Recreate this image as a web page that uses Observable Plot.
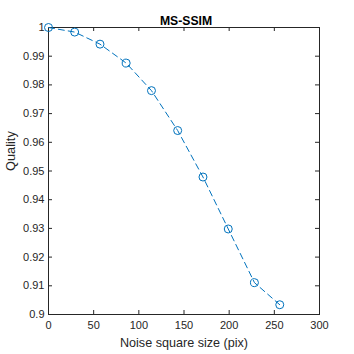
<!DOCTYPE html>
<html>
<head>
<meta charset="utf-8">
<script src="https://cdn.jsdelivr.net/npm/d3@7"></script>
<script src="https://cdn.jsdelivr.net/npm/@observablehq/plot@0.6"></script>
<style>
  html, body { margin: 0; padding: 0; background: #fff; }
</style>
</head>
<body>
<div id="chart"></div>
<script>
const noiseSize = [0, 29, 57, 86, 114, 143, 171, 199, 228, 256];
const quality = [1.0, 0.9984, 0.9942, 0.9876, 0.978, 0.9641, 0.9479, 0.9298, 0.9111, 0.9034];
const xTicks = [0, 50, 100, 150, 200, 250, 300];
const yTicks = [0.9, 0.91, 0.92, 0.93, 0.94, 0.95, 0.96, 0.97, 0.98, 0.99, 1];
const titleText = "MS-SSIM";
const xLabel = "Noise square size (pix)";
const yLabel = "Quality";

const data = noiseSize.map((x, i) => ({x, y: quality[i]}));
const axisColor = "#262626";
const lineColor = "#0072BD";

const chart = Plot.plot({
  width: 354,
  height: 354,
  marginLeft: 48,
  marginRight: 35,
  marginTop: 27,
  marginBottom: 40,
  style: {fontFamily: "'Liberation Sans', Arial, sans-serif", fontSize: "11px", background: "#fff", color: axisColor},
  x: {domain: [0, 300]},
  y: {domain: [0.9, 1]},
  marks: [
    Plot.ruleX(xTicks, {x: d => d, insetTop: 283, stroke: axisColor}),
    Plot.ruleX(xTicks, {x: d => d, insetBottom: 283, stroke: axisColor}),
    Plot.ruleY(yTicks, {y: d => d, insetRight: 267, stroke: axisColor}),
    Plot.ruleY(yTicks, {y: d => d, insetLeft: 267, stroke: axisColor}),
    Plot.axisX({ticks: xTicks, tickSize: 0, tickPadding: 7, label: null, fill: axisColor, fontSize: 11}),
    Plot.axisY({ticks: yTicks, tickSize: 0, tickPadding: 4, label: null, fill: axisColor, fontSize: 11,
      tickFormat: d => String(+d.toFixed(2))}),
    Plot.frame({stroke: axisColor, strokeWidth: 1}),
    Plot.line(data, {x: "x", y: "y", stroke: lineColor, strokeWidth: 1, strokeDasharray: "6,4"}),
    Plot.dot(data, {x: "x", y: "y", r: 4, stroke: lineColor, fill: "none", strokeWidth: 1}),
    Plot.text([titleText], {frameAnchor: "top", dx: 2, dy: -11, fontWeight: "bold", fontSize: 12.2, fill: "#000"}),
    Plot.text([xLabel], {frameAnchor: "bottom", dy: 32.5, fontSize: 12.6, fill: axisColor}),
    Plot.text([yLabel], {frameAnchor: "left", dx: -38, rotate: -90, fontSize: 12.8, fill: axisColor})
  ]
});
document.getElementById("chart").appendChild(chart);
</script>
</body>
</html>
